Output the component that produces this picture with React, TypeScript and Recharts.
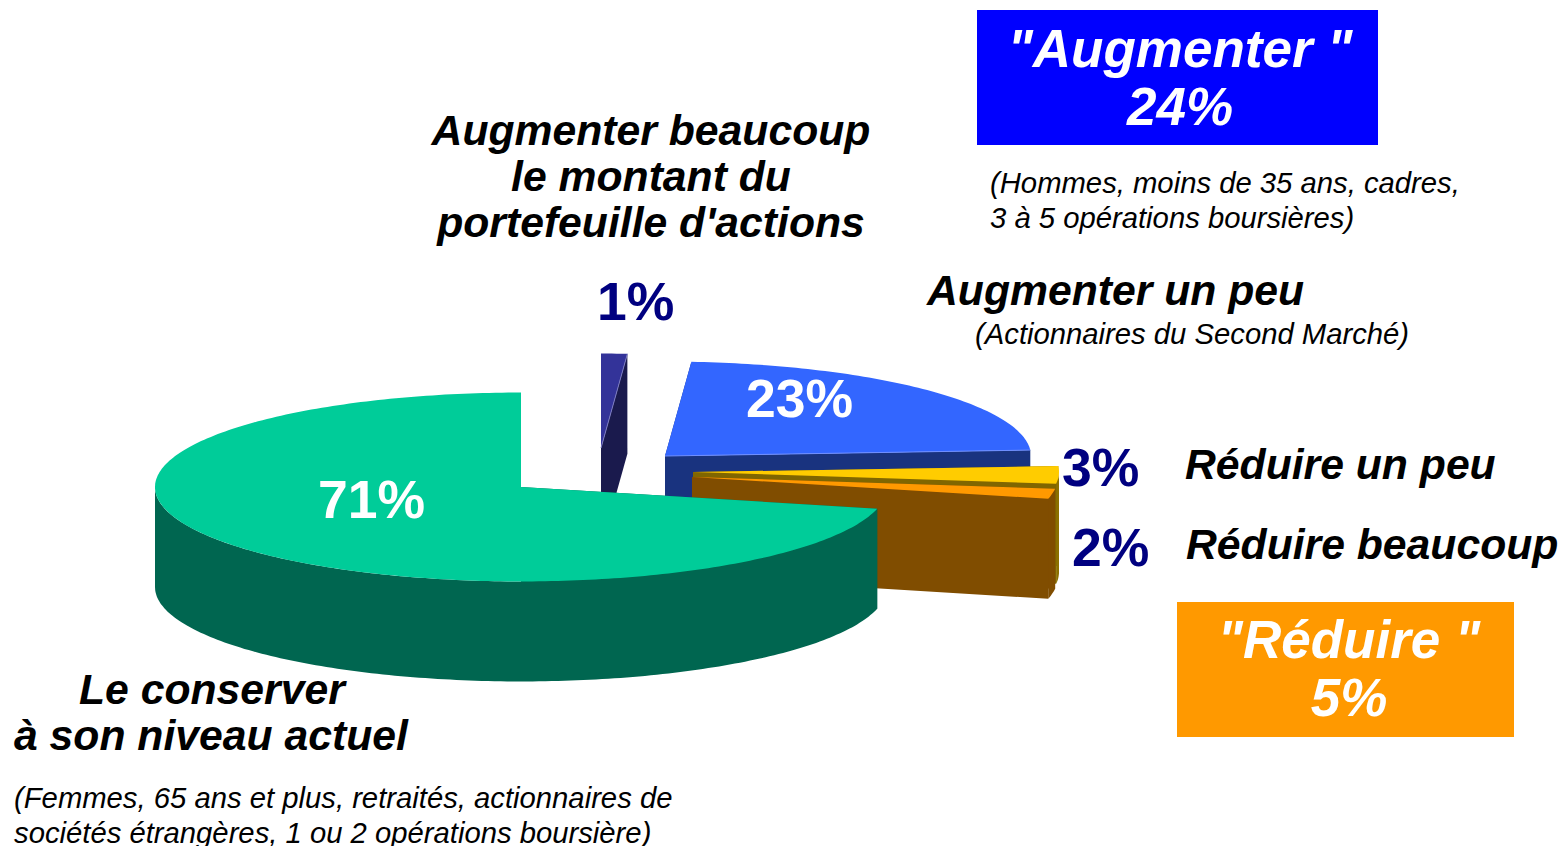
import React from 'react';
import { PieChart, Pie } from 'recharts';

// slices clockwise from 12 o'clock, this order is also the back-to-front paint order
const SLICE_NAMES = [
  'Augmenter beaucoup',
  'Augmenter un peu',
  'Réduire un peu',
  'Réduire beaucoup',
  'Le conserver',
];
// estimated from the slice edges, the printed labels are these rounded
const SLICE_VALUES = [1.15, 22.85, 3, 1.7, 71.3];

const TOP_COLORS = ['#333399', '#3366FF', '#FFCC00', '#FF9900', '#00CC99'];
const FACE_COLORS = ['#1A1A4D', '#19337F', '#806600', '#804D00', '#006650'];
const WALL_COLORS = ['#1A1A4D', '#19337F', '#8C7000', '#804D00', '#006650'];
const EDGE_COLORS = ['#7A7AC0', '#6F8FFF', 'none', 'none', 'none'];
const EXPLODE_X = [80, 144, 172, 171, 0];
const EXPLODE_Y = [-39, -31, -15, -10, 0];

const LABEL_COLORS = ['#000080', '#FFFFFF', '#000080', '#000080', '#FFFFFF'];
const LABEL_DX = [76, 225, 541, 551, -203];
const LABEL_DY = [-167, -70, -1, 79, 31];

const CX = 521;
const CY = 487;
const RX = 366;
const TILT = 0.258;
const DEPTH = 100;

const chartData = SLICE_NAMES.map((name, idx) => ({ name, idx, value: SLICE_VALUES[idx] }));

const BOLD_TITLES = [
  { text: 'Augmenter beaucoup', x: 651, y: 145, anchor: 'middle' },
  { text: 'le montant du', x: 651, y: 191, anchor: 'middle' },
  { text: "portefeuille d'actions", x: 651, y: 237, anchor: 'middle' },
  { text: 'Augmenter un peu', x: 927, y: 305, anchor: 'start' },
  { text: 'Réduire un peu', x: 1185, y: 479, anchor: 'start' },
  { text: 'Réduire beaucoup', x: 1186, y: 559, anchor: 'start' },
  { text: 'Le conserver', x: 79, y: 704, anchor: 'start' },
  { text: 'à son niveau actuel', x: 14, y: 750, anchor: 'start' },
];

const NOTES = [
  { text: '(Hommes, moins de 35 ans, cadres,', x: 990, y: 193 },
  { text: '3 à 5 opérations boursières)', x: 990, y: 228 },
  { text: '(Actionnaires du Second Marché)', x: 975, y: 344 },
  { text: '(Femmes, 65 ans et plus, retraités, actionnaires de', x: 14, y: 808 },
  { text: 'sociétés étrangères, 1 ou 2 opérations boursière)', x: 14, y: 843 },
];

const BOXES = [
  { x: 977, y: 10, w: 401, h: 135, fill: '#0000FF', lines: ['"Augmenter "', '24%'], cx: 1180, base: 67 },
  { x: 1177, y: 602, w: 337, h: 135, fill: '#FF9900', lines: ['"Réduire "', '5%'], cx: 1349, base: 658 },
];

const FONT = '"Liberation Sans", Arial, sans-serif';

// clockwise degrees from 12 o'clock -> point on the flattened circle
const arcPoints = (ox: number, oy: number, rx: number, ry: number, from: number, to: number) => {
  const pts: [number, number][] = [];
  const steps = Math.max(2, Math.ceil(Math.abs(to - from)));
  for (let i = 0; i <= steps; i++) {
    const t = ((from + ((to - from) * i) / steps) * Math.PI) / 180;
    pts.push([ox + rx * Math.sin(t), oy - ry * Math.cos(t)]);
  }
  return pts;
};

const toPoints = (pts: [number, number][]) => pts.map((p) => `${p[0].toFixed(1)},${p[1].toFixed(1)}`).join(' ');

const ExplodedSlice = (props: any) => {
  const { cx, cy, outerRadius, startAngle, endAngle } = props;
  const idx = props.payload?.idx ?? props.idx;
  const ox = cx + EXPLODE_X[idx];
  const oy = cy + EXPLODE_Y[idx];
  const ry = outerRadius * TILT;
  const from = 90 - startAngle;
  const to = 90 - endAngle;

  const rim = arcPoints(ox, oy, outerRadius, ry, from, to);
  const first = rim[0];
  const last = rim[rim.length - 1];

  const faces = [first, last].map((p) => [
    [ox, oy],
    p,
    [p[0], p[1] + DEPTH],
    [ox, oy + DEPTH],
  ] as [number, number][]);

  const wallFrom = Math.max(from, 90);
  const wallTo = Math.min(to, 270);
  const wallTop = wallTo > wallFrom ? arcPoints(ox, oy, outerRadius, ry, wallFrom, wallTo) : null;
  const wall = wallTop
    ? [...wallTop, ...wallTop.slice().reverse().map((p) => [p[0], p[1] + DEPTH] as [number, number])]
    : null;

  return (
    <g>
      {faces.map((face, i) => (
        <polygon key={i} points={toPoints(face)} fill={FACE_COLORS[idx]} />
      ))}
      {wall && <polygon points={toPoints(wall)} fill={WALL_COLORS[idx]} />}
      <polygon points={toPoints([[ox, oy], ...rim])} fill={TOP_COLORS[idx]} />
      <line x1={ox} y1={oy} x2={last[0]} y2={last[1]} stroke={EDGE_COLORS[idx]} strokeWidth={1} />
    </g>
  );
};

const renderPercent = (props: any) => {
  const idx = props.payload?.idx ?? props.idx ?? props.index;
  return (
    <text
      x={CX + LABEL_DX[idx]}
      y={CY + LABEL_DY[idx]}
      fill={LABEL_COLORS[idx]}
      fontFamily={FONT}
      fontWeight="bold"
      fontSize={53.5}
      textAnchor="start"
    >
      {`${Math.round(props.value)}%`}
    </text>
  );
};

export default function App() {
  return (
    <div style={{ position: 'absolute', left: 0, top: 0, width: 1561, height: 846, background: '#fff', overflow: 'hidden' }}>
      <svg width={1561} height={846} style={{ position: 'absolute', left: 0, top: 0 }}>
        {BOXES.map((b) => (
          <g key={b.fill}>
            <rect x={b.x} y={b.y} width={b.w} height={b.h} fill={b.fill} />
            {b.lines.map((line, i) => (
              <text
                key={line}
                x={b.cx}
                y={b.base + i * 58}
                textAnchor="middle"
                fill="#fff"
                fontFamily={FONT}
                fontWeight="bold"
                fontStyle="italic"
                fontSize={53}
              >
                {line}
              </text>
            ))}
          </g>
        ))}
        {BOLD_TITLES.map((t) => (
          <text
            key={t.text}
            x={t.x}
            y={t.y}
            textAnchor={t.anchor as any}
            fill="#000"
            fontFamily={FONT}
            fontWeight="bold"
            fontStyle="italic"
            fontSize={42.7}
          >
            {t.text}
          </text>
        ))}
        {NOTES.map((t) => (
          <text key={t.text} x={t.x} y={t.y} fill="#000" fontFamily={FONT} fontStyle="italic" fontSize={29.25}>
            {t.text}
          </text>
        ))}
      </svg>
      <div style={{ position: 'absolute', left: 0, top: 0 }}>
        <PieChart width={1561} height={846} margin={{ top: 0, right: 0, bottom: 0, left: 0 }}>
          <Pie
            data={chartData}
            dataKey="value"
            nameKey="name"
            cx={CX}
            cy={CY}
            innerRadius={0}
            outerRadius={RX}
            startAngle={90}
            endAngle={-270}
            stroke="none"
            shape={ExplodedSlice}
            label={renderPercent}
            labelLine={false}
            isAnimationActive={false}
          />
        </PieChart>
      </div>
    </div>
  );
}
